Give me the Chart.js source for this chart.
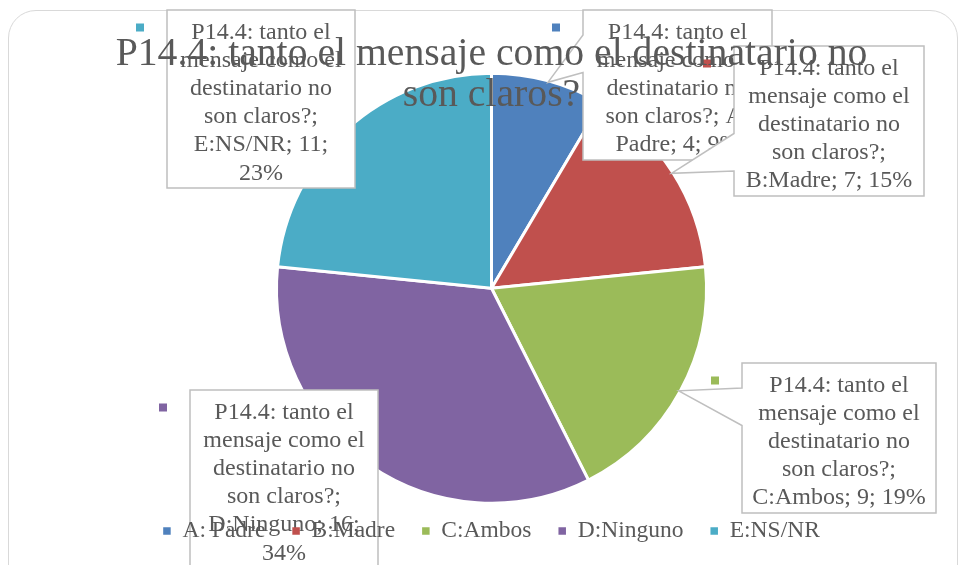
<!DOCTYPE html>
<html>
<head>
<meta charset="utf-8">
<script src="https://cdn.jsdelivr.net/npm/chart.js@4/dist/chart.umd.min.js"></script>
<style>
html, body { margin: 0; padding: 0; background: #ffffff; width: 961px; height: 565px; overflow: hidden; }
#frame { position: absolute; left: 8px; top: 10px; width: 950px; height: 620px; box-sizing: border-box;
         border: 1.5px solid #d9d9d9; border-radius: 28px; }
#wrap { position: absolute; left: 0; top: 0; width: 961px; height: 565px; }
</style>
</head>
<body>
<div id="frame"></div>
<div id="wrap"><canvas id="c" width="961" height="565"></canvas></div>
<script>
// ---- data ----
const titleLines = ['P14.4: tanto el mensaje como el destinatario no', 'son claros?'];
const seriesName = 'P14.4: tanto el mensaje como el destinatario no son claros?';
const categories = ['A: Padre', 'B:Madre', 'C:Ambos', 'D:Ninguno', 'E:NS/NR'];
const counts = [4, 7, 9, 16, 11];
const sliceColors = ['#4F81BD', '#C0504D', '#9BBB59', '#8064A2', '#4BACC6'];

// ---- label callout placement (layout only) ----
const calloutBoxes = [
  { x: 583, y: 10,  w: 189, h: 150 },
  { x: 734, y: 46,  w: 190, h: 150 },
  { x: 742, y: 363, w: 194, h: 150 },
  { x: 190, y: 390, w: 188, h: 178 },
  { x: 167, y: 10,  w: 188, h: 178 }
];

const TEXT = '#595959';
const SERIF = "'Liberation Serif', 'Times New Roman', serif";

function wrapText(ctx, text, maxW) {
  const words = text.split(' ');
  const lines = [];
  let cur = '';
  for (const w of words) {
    const t = cur ? cur + ' ' + w : w;
    if (cur && ctx.measureText(t).width > maxW) { lines.push(cur); cur = w; }
    else cur = t;
  }
  if (cur) lines.push(cur);
  return lines;
}

// Office-style wedge rectangle callout
function calloutPath(ctx, b, tx, ty) {
  const l = b.x, t = b.y, r = b.x + b.w, btm = b.y + b.h;
  ctx.beginPath();
  if (tx >= l && tx <= r && ty >= t && ty <= btm) { ctx.rect(l, t, b.w, b.h); return; }
  const hc = l + b.w / 2, vc = t + b.h / 2;
  const dx = tx - hc, dy = ty - vc;
  const dq = dx * b.h / b.w;
  const dz = Math.abs(dy) - Math.abs(dq);
  const x1 = l + b.w * (dx > 0 ? 7 : 2) / 12, x2 = l + b.w * (dx > 0 ? 10 : 5) / 12;
  const y1 = t + b.h * (dy > 0 ? 7 : 2) / 12, y2 = t + b.h * (dy > 0 ? 10 : 5) / 12;
  ctx.moveTo(l, t);
  if (dz > 0 && dy < 0) { ctx.lineTo(x1, t); ctx.lineTo(tx, ty); ctx.lineTo(x2, t); }
  ctx.lineTo(r, t);
  if (dz <= 0 && dx > 0) { ctx.lineTo(r, y1); ctx.lineTo(tx, ty); ctx.lineTo(r, y2); }
  ctx.lineTo(r, btm);
  if (dz > 0 && dy > 0) { ctx.lineTo(x2, btm); ctx.lineTo(tx, ty); ctx.lineTo(x1, btm); }
  ctx.lineTo(l, btm);
  if (dz <= 0 && dx < 0) { ctx.lineTo(l, y2); ctx.lineTo(tx, ty); ctx.lineTo(l, y1); }
  ctx.closePath();
}

// Put legend and title above the datasets / callouts (as in the reference)
const layerPlugin = {
  id: 'layerOrder',
  afterInit(chart) {
    [chart.legend, chart.titleBlock].forEach(box => {
      if (box) box._layers = () => [{ z: 1, draw: (area) => box.draw(area) }];
    });
  }
};

const calloutPlugin = {
  id: 'callouts',
  afterDatasetsDraw(chart) {
    const ctx = chart.ctx;
    const meta = chart.getDatasetMeta(0);
    const ds = chart.data.datasets[0];
    const total = ds.data.reduce((a, b) => a + b, 0);
    const bw = ds.borderWidth || 0;
    ctx.save();
    ctx.font = '24px ' + SERIF;
    meta.data.forEach((arc, i) => {
      const b = calloutBoxes[i];
      const p = arc.getProps(['x', 'y', 'startAngle', 'endAngle', 'outerRadius'], true);
      const mid = (p.startAngle + p.endAngle) / 2;
      const rr = p.outerRadius - bw / 2;
      const tx = p.x + Math.cos(mid) * rr;
      const ty = p.y + Math.sin(mid) * rr;
      // box + pointer
      calloutPath(ctx, b, tx, ty);
      ctx.fillStyle = '#ffffff';
      ctx.fill();
      ctx.lineWidth = 1.5;
      ctx.strokeStyle = '#bfbfbf';
      ctx.stroke();
      // legend key
      ctx.fillStyle = sliceColors[i];
      ctx.fillRect(b.x - 31, b.y + 13.5, 8, 8);
      // text
      const v = ds.data[i];
      const pct = Math.round(v / total * 100);
      const text = seriesName + '; ' + chart.data.labels[i] + '; ' + v + '; ' + pct + '%';
      const lines = wrapText(ctx, text, b.w - 16);
      ctx.fillStyle = TEXT;
      ctx.textAlign = 'center';
      ctx.textBaseline = 'alphabetic';
      lines.forEach((ln, k) => ctx.fillText(ln, b.x + b.w / 2, b.y + 28.5 + k * 28.2));
    });
    ctx.restore();
  }
};

new Chart(document.getElementById('c'), {
  type: 'pie',
  data: {
    labels: categories,
    datasets: [{
      label: seriesName,
      data: counts,
      backgroundColor: sliceColors,
      borderColor: '#ffffff',
      borderWidth: 3,
      radius: 215
    }]
  },
  options: {
    responsive: false,
    devicePixelRatio: 1,
    animation: false,
    events: [],
    layout: { padding: { left: 22, right: 0, top: 0, bottom: 12.25 } },
    plugins: {
      tooltip: { enabled: false },
      title: {
        display: true,
        text: titleLines,
        color: TEXT,
        font: { family: SERIF, size: 39.7, weight: 'normal', lineHeight: 1.04 },
        padding: { top: 33.85, bottom: -32.2 }
      },
      legend: {
        display: true,
        position: 'bottom',
        align: 'center',
        labels: {
          boxWidth: 7.5,
          boxHeight: 7.5,
          padding: 27,
          color: TEXT,
          font: { family: SERIF, size: 23.5 },
          generateLabels(chart) {
            const items = Chart.overrides.pie.plugins.legend.labels.generateLabels(chart);
            items.forEach(it => { it.lineWidth = 0; it.strokeStyle = 'rgba(0,0,0,0)'; });
            return items;
          }
        }
      }
    }
  },
  plugins: [layerPlugin, calloutPlugin]
});
</script>
</body>
</html>
